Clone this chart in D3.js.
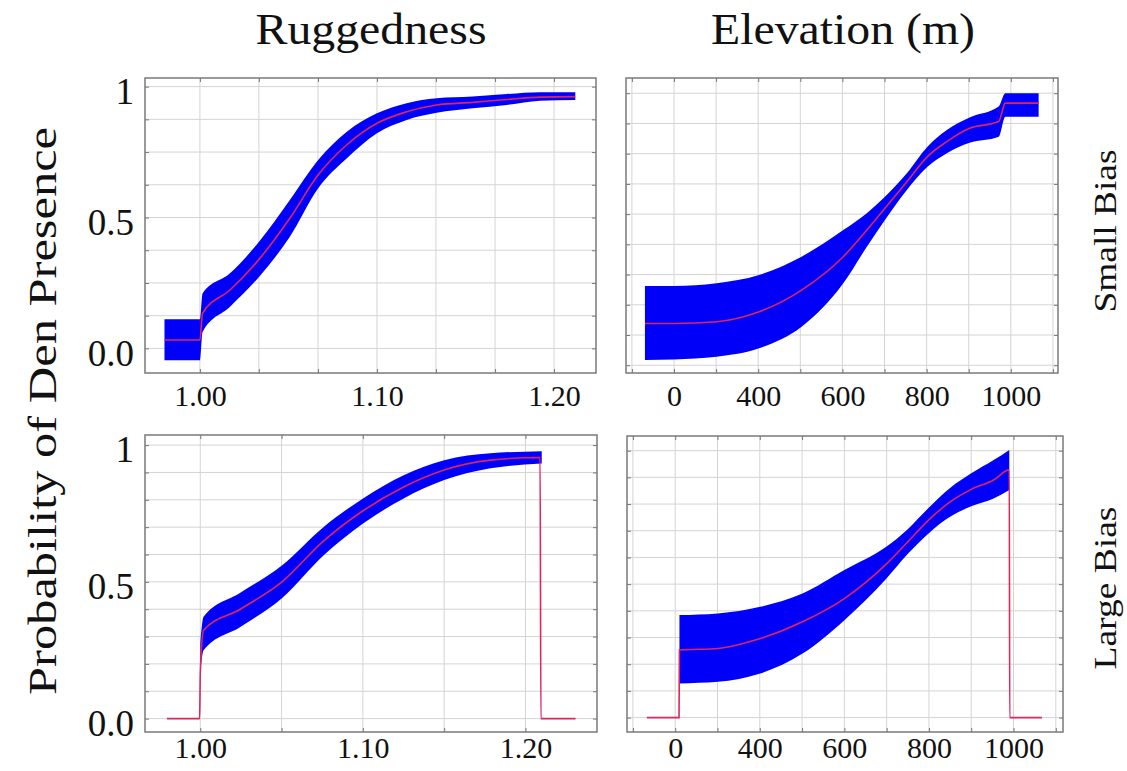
<!DOCTYPE html>
<html>
<head>
<meta charset="utf-8">
<script src="https://cdn.jsdelivr.net/npm/d3@7"></script>
<style>
  body { margin: 0; background: #fff; }
  svg { display: block; }
  text { font-family: "Liberation Serif", "Times New Roman", serif; fill: #111; }
</style>
</head>
<body>
<svg id="chart" width="1127" height="771"></svg>
<script>
// ---- labels ----
const colTitles = ['Ruggedness', 'Elevation (m)'];
const rowTitles = ['Small Bias', 'Large Bias'];
const yTitle = 'Probability of Den Presence';

// ---- tick values / labels ----
const rugTicks = [1.00, 1.10, 1.20];
const rugTickLabels = ['1.00', '1.10', '1.20'];
const elevTicks = [200, 400, 600, 800, 1000];
const elevTickLabels = ['0', '400', '600', '800', '1000'];
const probTicks = [0, 0.5, 1];
const probTickLabels = ['0.0', '0.5', '1'];

// grid lines
const rugSmallGrid = [1.0, 1.0333, 1.0667, 1.1, 1.1333, 1.1667, 1.2];
const rugLargeGrid = [1.00, 1.05, 1.10, 1.15, 1.20];
const elevGrid = [100, 200, 300, 400, 500, 600, 700, 800, 900, 1000, 1100];
const probGridTopLeft = [0, 0.125, 0.25, 0.375, 0.5, 0.625, 0.75, 0.875, 1];
const probGridTopRight = [-0.125, 0, 0.125, 0.25, 0.375, 0.5, 0.625, 0.75, 0.875, 1];
const probGridBottom = [0, 0.1, 0.2, 0.3, 0.4, 0.5, 0.6, 0.7, 0.8, 0.9, 1];

// ---- Ruggedness, small bias ----
const rugSmallX   = [0.980, 1.000, 1.0015, 1.0170, 1.0335, 1.0508, 1.0668, 1.0830, 1.1000, 1.1168, 1.1337, 1.1540, 1.1733, 1.1920, 1.2120];
const rugSmallMid = [0.032, 0.032, 0.134, 0.223, 0.341, 0.497, 0.663, 0.778, 0.860, 0.904, 0.930, 0.940, 0.951, 0.960, 0.962];
const rugSmallHi  = [0.111, 0.111, 0.210, 0.287, 0.408, 0.567, 0.720, 0.828, 0.898, 0.937, 0.956, 0.962, 0.972, 0.979, 0.979];
const rugSmallLo  = [-0.045, -0.045, 0.063, 0.159, 0.274, 0.427, 0.612, 0.726, 0.822, 0.873, 0.900, 0.917, 0.930, 0.946, 0.949];

// ---- Elevation, small bias ----
const elevSmallX   = [131, 200, 301, 402, 503, 602, 658, 701, 753, 802, 848, 902, 971, 987, 1066];
const elevSmallMid = [0.048, 0.048, 0.055, 0.096, 0.186, 0.324, 0.434, 0.524, 0.634, 0.738, 0.800, 0.855, 0.883, 0.959, 0.959];
const elevSmallHi  = [0.203, 0.203, 0.214, 0.248, 0.324, 0.434, 0.504, 0.572, 0.669, 0.779, 0.848, 0.900, 0.945, 1.000, 1.000];
const elevSmallLo  = [-0.103, -0.101, -0.090, -0.055, 0.034, 0.214, 0.365, 0.476, 0.600, 0.696, 0.752, 0.795, 0.820, 0.903, 0.903];

// ---- Ruggedness, large bias ----
const rugLargeBandX = [1.000, 1.002, 1.0246, 1.0502, 1.0759, 1.1001, 1.1251, 1.1500, 1.1785, 1.2100];
const rugLargeHi    = [0.274, 0.372, 0.460, 0.560, 0.701, 0.805, 0.890, 0.945, 0.970, 0.978];
const rugLargeLo    = [0.165, 0.250, 0.335, 0.440, 0.597, 0.713, 0.805, 0.872, 0.915, 0.933];
const rugLargeLineX = [0.9795, 0.9996, 1.000, 1.002, 1.0246, 1.0502, 1.0759, 1.1001, 1.1251, 1.1500, 1.1785, 1.2090, 1.2095, 1.2308];
const rugLargeMid   = [0, 0, 0.165, 0.323, 0.400, 0.500, 0.650, 0.760, 0.847, 0.909, 0.945, 0.955, 0, 0];

// ---- Elevation, large bias ----
const elevLargeBandX = [210, 301, 401, 501, 600, 699, 748, 799, 850, 900, 953, 990];
const elevLargeHi    = [0.384, 0.390, 0.415, 0.465, 0.553, 0.640, 0.703, 0.785, 0.860, 0.915, 0.965, 1.003];
const elevLargeLo    = [0.128, 0.134, 0.165, 0.240, 0.365, 0.520, 0.610, 0.690, 0.752, 0.792, 0.821, 0.853];
const elevLargeLineX = [133, 209, 210, 301, 401, 501, 600, 699, 748, 799, 850, 900, 953, 990, 991, 1067];
const elevLargeMid   = [0, 0, 0.253, 0.259, 0.296, 0.359, 0.446, 0.575, 0.655, 0.740, 0.808, 0.855, 0.890, 0.928, 0, 0];

const svg = d3.select('#chart');

const panels = [
  { left: 145, right: 596, top: 78, bottom: 373, labelPad: 12,
    xDomain: [0.969, 1.2237], yDomain: [-0.094, 1.033],
    xGrid: rugSmallGrid, yGrid: probGridTopLeft,
    xTicks: rugTicks, xLabels: rugTickLabels, yLabels: true,
    bandX: rugSmallX, hi: rugSmallHi, lo: rugSmallLo, lineX: rugSmallX, mid: rugSmallMid },
  { left: 626, right: 1058, top: 78, bottom: 373, labelPad: 12,
    xDomain: [86, 1112], yDomain: [-0.157, 1.063],
    xGrid: elevGrid, yGrid: probGridTopRight,
    xTicks: elevTicks, xLabels: elevTickLabels, yLabels: false,
    bandX: elevSmallX, hi: elevSmallHi, lo: elevSmallLo, lineX: elevSmallX, mid: elevSmallMid },
  { left: 145, right: 597, top: 435, bottom: 732, labelPad: 5,
    xDomain: [0.966, 1.244], yDomain: [-0.049, 1.037],
    xGrid: rugLargeGrid, yGrid: probGridBottom,
    xTicks: rugTicks, xLabels: rugTickLabels, yLabels: true,
    bandX: rugLargeBandX, hi: rugLargeHi, lo: rugLargeLo, lineX: rugLargeLineX, mid: rugLargeMid },
  { left: 627, right: 1063, top: 436, bottom: 732, labelPad: 5,
    xDomain: [86, 1117], yDomain: [-0.054, 1.055],
    xGrid: elevGrid, yGrid: probGridBottom,
    xTicks: elevTicks, xLabels: elevTickLabels, yLabels: false,
    bandX: elevLargeBandX, hi: elevLargeHi, lo: elevLargeLo, lineX: elevLargeLineX, mid: elevLargeMid },
];

function drawPanel(p) {
  const x = d3.scaleLinear().domain(p.xDomain).range([p.left, p.right]);
  const y = d3.scaleLinear().domain(p.yDomain).range([p.bottom, p.top]);
  const g = svg.append('g');

  // grid
  g.append('g').selectAll('line')
    .data(p.xGrid)
    .join('line')
    .attr('x1', d => x(d)).attr('x2', d => x(d))
    .attr('y1', p.top).attr('y2', p.bottom)
    .attr('stroke', '#d4d4d4').attr('stroke-width', 1);

  g.append('g').selectAll('line')
    .data(p.yGrid)
    .join('line')
    .attr('x1', p.left).attr('x2', p.right)
    .attr('y1', d => y(d)).attr('y2', d => y(d))
    .attr('stroke', '#d4d4d4').attr('stroke-width', 1);

  // uncertainty band
  const band = p.bandX.map((v, i) => ({ x: v, lo: p.lo[i], hi: p.hi[i] }));
  const area = d3.area()
    .x(d => x(d.x))
    .y0(d => y(d.lo))
    .y1(d => y(d.hi))
    .curve(d3.curveMonotoneX);
  g.append('path').datum(band)
    .attr('d', area)
    .attr('fill', '#0000fa');

  // mean line
  const pts = p.lineX.map((v, i) => ({ x: v, y: p.mid[i] }));
  const line = d3.line()
    .x(d => x(d.x))
    .y(d => y(d.y))
    .curve(d3.curveMonotoneX);
  g.append('path').datum(pts)
    .attr('d', line)
    .attr('fill', 'none')
    .attr('stroke', '#e0245c')
    .attr('stroke-width', 1.6);

  // frame ticks (inward)
  const tickStyle = sel => {
    sel.select('.domain').remove();
    sel.selectAll('line').attr('stroke', '#777');
  };
  g.append('g').attr('transform', `translate(0,${p.bottom})`)
    .call(d3.axisBottom(x).tickValues(p.xGrid).tickSize(-4).tickFormat(''))
    .call(tickStyle);
  g.append('g').attr('transform', `translate(0,${p.top})`)
    .call(d3.axisTop(x).tickValues(p.xGrid).tickSize(-4).tickFormat(''))
    .call(tickStyle);
  g.append('g').attr('transform', `translate(${p.left},0)`)
    .call(d3.axisLeft(y).tickValues(p.yGrid).tickSize(-4).tickFormat(''))
    .call(tickStyle);
  g.append('g').attr('transform', `translate(${p.right},0)`)
    .call(d3.axisRight(y).tickValues(p.yGrid).tickSize(-4).tickFormat(''))
    .call(tickStyle);

  // frame
  g.append('rect')
    .attr('x', p.left).attr('y', p.top)
    .attr('width', p.right - p.left).attr('height', p.bottom - p.top)
    .attr('fill', 'none')
    .attr('stroke', '#7a7a7a')
    .attr('stroke-width', 1.5);

  // tick labels
  const xAxis = g.append('g')
    .attr('transform', `translate(0,${p.bottom})`)
    .call(d3.axisBottom(x).tickValues(p.xTicks)
      .tickFormat((d, i) => p.xLabels[i]).tickSize(0).tickPadding(p.labelPad));
  xAxis.select('.domain').remove();
  xAxis.selectAll('text')
    .attr('font-family', '"Liberation Serif", serif')
    .attr('font-size', 30)
    .attr('fill', '#111');

  if (p.yLabels) {
    const yAxis = g.append('g')
      .attr('transform', `translate(${p.left - 11},0)`)
      .call(d3.axisLeft(y).tickValues(probTicks)
        .tickFormat((d, i) => probTickLabels[i]).tickSize(0).tickPadding(0));
    yAxis.select('.domain').remove();
    yAxis.selectAll('text')
      .attr('font-family', '"Liberation Serif", serif')
      .attr('font-size', 37)
      .attr('dy', '0.45em')
      .attr('fill', '#111');
  }
}

panels.forEach(drawPanel);

// column titles
const colCenters = [371, 843];
const colLengths = [231, 264];
svg.selectAll('.col-title')
  .data(colTitles)
  .join('text')
  .attr('class', 'col-title')
  .attr('x', (d, i) => colCenters[i])
  .attr('y', 44)
  .attr('text-anchor', 'middle')
  .attr('font-size', 44)
  .attr('textLength', (d, i) => colLengths[i])
  .attr('lengthAdjust', 'spacingAndGlyphs')
  .text(d => d);

// row titles (right side)
const rowCenters = [231, 588];
svg.selectAll('.row-title')
  .data(rowTitles)
  .join('text')
  .attr('class', 'row-title')
  .attr('transform', (d, i) => `translate(1116,${rowCenters[i]}) rotate(-90)`)
  .attr('text-anchor', 'middle')
  .attr('font-size', 31)
  .attr('textLength', 163)
  .attr('lengthAdjust', 'spacingAndGlyphs')
  .text(d => d);

// y title
svg.append('text')
  .attr('transform', 'translate(56,411) rotate(-90)')
  .attr('text-anchor', 'middle')
  .attr('font-size', 40)
  .attr('textLength', 568)
  .attr('lengthAdjust', 'spacingAndGlyphs')
  .text(yTitle);
</script>
</body>
</html>
